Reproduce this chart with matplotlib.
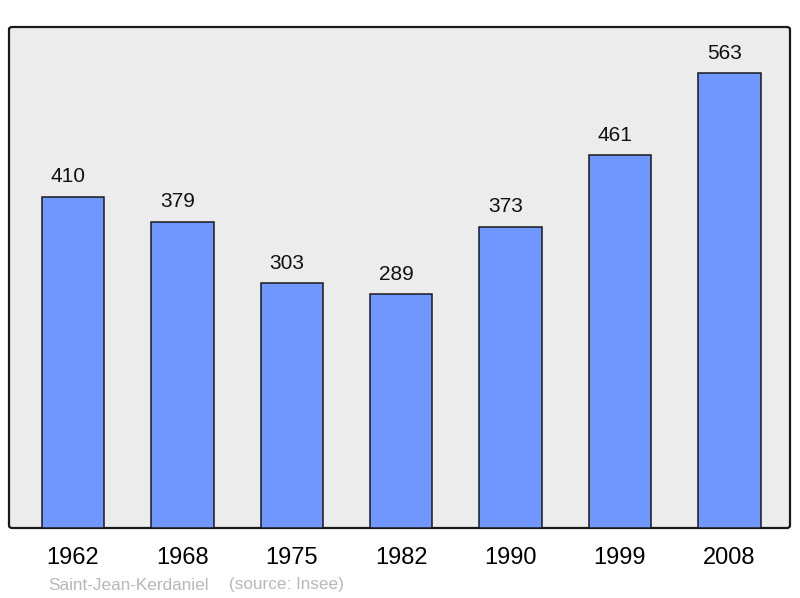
import matplotlib.pyplot as plt
from matplotlib.patches import FancyBboxPatch

plt.rcParams['font.family'] = ['Liberation Sans', 'DejaVu Sans']

years = ["1962", "1968", "1975", "1982", "1990", "1999", "2008"]
population = [410, 379, 303, 289, 373, 461, 563]

fig = plt.figure(figsize=(8, 5.98), dpi=100)
# axes box in pixels: left 9, top 27, right 790, bottom 528
ax = fig.add_axes([9 / 800, 1 - 528 / 598, 781 / 800, 501 / 598], zorder=2)
ax.set_facecolor("none")

# rounded frame behind the bars
frame = FancyBboxPatch((9 / 800, 1 - 528 / 598), 781 / 800, 501 / 598,
                       boxstyle="round,pad=0,rounding_size=0.004",
                       transform=fig.transFigure, facecolor="#ececec",
                       edgecolor="#1a1a1a", linewidth=1.6, zorder=1)
fig.patches.append(frame)

x = range(len(years))
ax.bar(x, population, width=0.57, color="#7096ff", edgecolor="#1a1a1a",
       linewidth=1.1, zorder=2)

for i, v in enumerate(population):
    ax.annotate(str(v), (i, v), xytext=(-3.5, 7.5), textcoords="offset points",
                ha="center", va="bottom", fontsize=15, color="#111111")

ax.set_xlim(-0.585, 6.554)
ax.set_ylim(0, 620)
ax.set_yticks([])
ax.set_xticks(list(x))
ax.set_xticklabels(years, fontsize=17)
ax.tick_params(axis="x", length=0, pad=14)
for s in ax.spines.values():
    s.set_visible(False)

fig.text(48 / 800, 1 - 585 / 598, "Saint-Jean-Kerdaniel", fontsize=12.3,
         color="#b8b8b8", ha="left", va="center")
fig.text(229 / 800, 1 - 585 / 598, "(source: Insee)", fontsize=12.3,
         color="#b8b8b8", ha="left", va="center")

fig.savefig("out.png", dpi=100)
